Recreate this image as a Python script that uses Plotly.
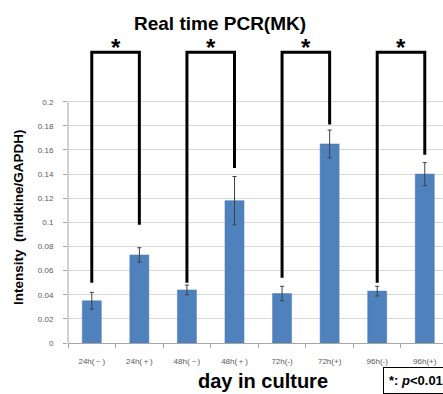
import plotly.graph_objects as go

categories = ["24h(－)", "24h(＋)", "48h(－)", "48h(＋)", "72h(-)", "72h(+)", "96h(-)", "96h(+)"]
values = [0.035, 0.073, 0.044, 0.118, 0.041, 0.165, 0.043, 0.140]
errors = [0.007, 0.006, 0.004, 0.020, 0.006, 0.0115, 0.004, 0.0095]
y_ticks = [0, 0.02, 0.04, 0.06, 0.08, 0.1, 0.12, 0.14, 0.16, 0.18, 0.2]
y_tick_labels = ["0", "0.02", "0.04", "0.06", "0.08", "0.1", "0.12", "0.14", "0.16", "0.18", "0.2"]

# significance brackets
bracket_left = ["24h(－)", "48h(－)", "72h(-)", "96h(-)"]
bracket_right = ["24h(＋)", "48h(＋)", "72h(+)", "96h(+)"]
bracket_left_bottom = [0.050, 0.050, 0.054, 0.050]
bracket_right_bottom = [0.098, 0.145, 0.181, 0.156]
bracket_top = [0.241, 0.241, 0.241, 0.241]
star_y = [0.242, 0.242, 0.242, 0.242]

W, H = 443, 394
L, R, T, B = 68, 0, 29, 51
plot_h = H - T - B
px_per_unit = (343 - 101.7) / 0.2
y_max = plot_h / px_per_unit
cat_px = 47.57
x_max = -0.5 + (W - L - R) / cat_px

FONT = "Arial, Liberation Sans, sans-serif"

fig = go.Figure()
fig.add_trace(go.Bar(
    x=categories, y=values, width=0.4,
    marker=dict(color="#4F81BD", line=dict(color="#4A7BB5", width=0.5)),
    error_y=dict(type="data", array=errors, visible=True, color="#404040", thickness=1, width=2),
    showlegend=False,
))

for lc, rc, lb, rb, top, sy in zip(bracket_left, bracket_right, bracket_left_bottom,
                                   bracket_right_bottom, bracket_top, star_y):
    fig.add_trace(go.Scatter(
        x=[lc, lc, rc, rc], y=[lb, top, top, rb], mode="lines",
        line=dict(color="black", width=3), showlegend=False, hoverinfo="skip",
        cliponaxis=False,
    ))
    i = categories.index(lc)
    fig.add_annotation(x=i + 0.5, y=sy, xref="x", yref="y", text="<b>*</b>",
                       showarrow=False, yanchor="middle", yshift=4,
                       font=dict(family=FONT, size=24, color="black"))

# y axis line only over 0..0.2
fig.add_shape(type="line", xref="paper", yref="y", x0=0, x1=0, y0=0, y1=0.2,
              line=dict(color="#a6a6a6", width=1))

def py(p):
    return (H - B - p) / plot_h

def px(p):
    return (p - L) / (W - L - R)

fig.add_annotation(text="<b>Real time PCR(MK)</b>", xref="paper", yref="paper",
                   x=px(220), y=py(23), showarrow=False, xanchor="center", yanchor="middle",
                   font=dict(family=FONT, size=19, color="black"))
fig.add_annotation(text="<b>Intensity  (midkine/GAPDH)</b>", xref="paper", yref="paper",
                   x=px(18), y=py(217), showarrow=False, xanchor="center", yanchor="middle",
                   textangle=-90, font=dict(family=FONT, size=13.5, color="black"))
fig.add_annotation(text="<b>day in culture</b>", xref="paper", yref="paper",
                   x=px(263), y=py(381), showarrow=False, xanchor="center", yanchor="middle",
                   font=dict(family=FONT, size=20, color="black"))
fig.add_annotation(text="<b>*: <i>p</i><0.01</b>    ", xref="paper", yref="paper",
                   x=px(383), y=py(367), showarrow=False, xanchor="left", yanchor="top",
                   align="left", bordercolor="black", borderwidth=1, borderpad=5,
                   bgcolor="white", font=dict(family=FONT, size=13, color="black"))

fig.update_layout(
    width=W, height=H,
    margin=dict(l=L, r=R, t=T, b=B, pad=0),
    paper_bgcolor="white", plot_bgcolor="white",
    bargap=0.6,
    xaxis=dict(type="category", range=[-0.5, x_max], showline=True, linecolor="#a6a6a6",
               ticks="outside", tickson="boundaries", ticklen=4, tickcolor="#a6a6a6",
               ticklabelstandoff=10,
               tickfont=dict(family=FONT, size=8, color="#595959"), showgrid=False),
    yaxis=dict(range=[0, y_max], tickvals=y_ticks, ticktext=y_tick_labels,
               showgrid=True, gridcolor="#d9d9d9", gridwidth=1, zeroline=False,
               showline=False, ticks="outside", ticklen=4, tickcolor="#a6a6a6",
               ticklabelstandoff=8,
               tickfont=dict(family=FONT, size=8, color="#595959")),
)

fig.write_html("out.html", config={"displayModeBar": False},
               post_script="document.body.style.margin='0';")
